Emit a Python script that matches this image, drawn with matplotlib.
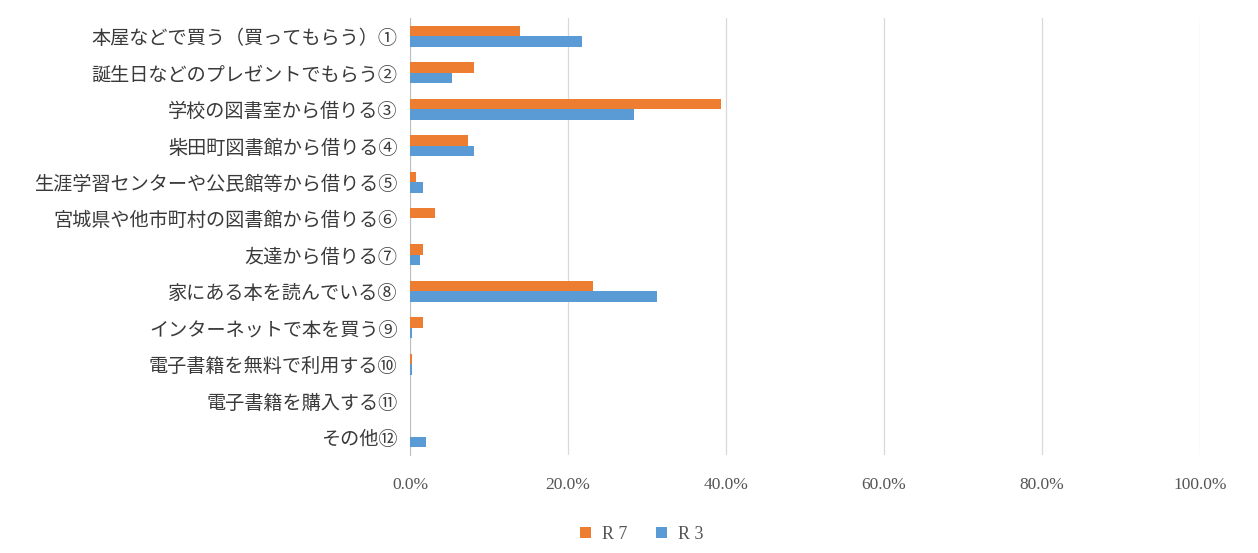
import matplotlib.pyplot as plt
import numpy as np
from matplotlib.ticker import FuncFormatter

plt.rcParams['font.family'] = ['Noto Sans CJK JP', 'DejaVu Sans']

categories = [
    "本屋などで買う（買ってもらう）①",
    "誕生日などのプレゼントでもらう②",
    "学校の図書室から借りる③",
    "柴田町図書館から借りる④",
    "生涯学習センターや公民館等から借りる⑤",
    "宮城県や他市町村の図書館から借りる⑥",
    "友達から借りる⑦",
    "家にある本を読んでいる⑧",
    "インターネットで本を買う⑨",
    "電子書籍を無料で利用する⑩",
    "電子書籍を購入する⑪",
    "その他⑫",
]
r7 = [13.9, 8.1, 39.4, 7.3, 0.8, 3.2, 1.6, 23.1, 1.6, 0.2, 0.0, 0.0]
r3 = [21.7, 5.3, 28.4, 8.1, 1.6, 0.0, 1.2, 31.2, 0.3, 0.3, 0.0, 2.0]
series_names = ["R 7", "R 3"]

fig = plt.figure(figsize=(12.58, 5.53), dpi=100)
ax = fig.add_axes([0.326, 0.177, 0.628, 0.790])

y = np.arange(len(categories))
h = 0.29
ax.barh(y - h / 2, r7, height=h, color="#ED7D31", label=series_names[0], zorder=3)
ax.barh(y + h / 2, r3, height=h, color="#5B9BD5", label=series_names[1], zorder=3)

ax.set_xlim(0, 100)
ax.set_ylim(len(categories) - 0.5, -0.5)
ax.set_xticks(np.arange(0, 101, 20))
ax.xaxis.set_major_formatter(FuncFormatter(lambda v, _: f"{v:.1f}%"))
ax.set_yticks(y)
ax.set_yticklabels(categories, fontsize=13.8, color="#3a3a3a")
for lab in ax.get_xticklabels():
    lab.set_family("Liberation Serif")
    lab.set_fontsize(12.5)
    lab.set_color("#555555")

ax.grid(axis="x", color="#d9d9d9", linewidth=0.9, zorder=0)
for s in ["top", "right", "bottom"]:
    ax.spines[s].set_visible(False)
ax.spines["left"].set_color("#bfbfbf")
ax.tick_params(axis="both", length=0)
ax.tick_params(axis="x", pad=16)
ax.tick_params(axis="y", pad=9)

leg = fig.legend(loc="center", bbox_to_anchor=(0.51, 0.034), ncol=2, frameon=False,
                 handlelength=0.6, handleheight=0.6, columnspacing=1.6, handletextpad=0.6,
                 prop={"family": "Liberation Serif", "size": 13})
for t in leg.get_texts():
    t.set_color("#555555")

fig.savefig("out.png", dpi=100, facecolor="white")
